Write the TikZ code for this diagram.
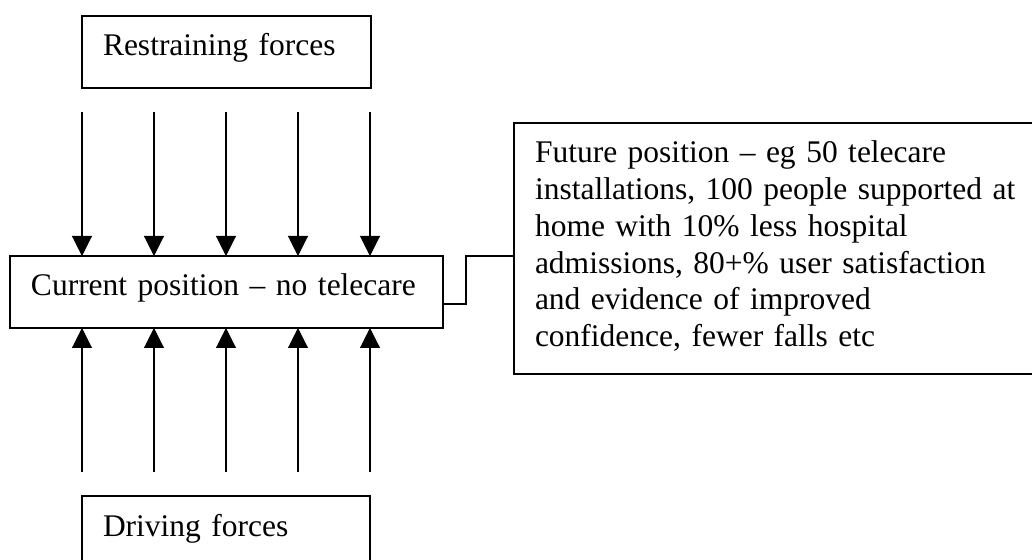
\documentclass[tikz,border=0pt]{standalone}
\usepackage{fontspec}
\setmainfont{Liberation Serif}
\usetikzlibrary{arrows.meta}

\begin{document}
\begin{tikzpicture}[x=0.5pt,y=-0.5pt,
   box/.style={draw,line width=0.65pt,anchor=north west,outer sep=0pt,
     inner xsep=10.5pt,inner ysep=5pt,text height=15pt,text depth=11pt,
     align=left,font=\fontsize{15.75}{18.35}\selectfont},
   force/.style={line width=0.55pt,-{Triangle[length=10pt,width=10pt]}}]
   \useasboundingbox (0,0) rectangle (1032,560);
   \clip (0,0) rectangle (1032,560);
   % the boxes
   \node [box,text width=123.5pt] (rest) at (82,16) {Restraining forces};
   \node [box,text width=195.5pt] (cur) at (10,256) {Current position -- no telecare};
   \node [box,text width=123pt] (drive) at (82,496) {Driving forces};
   \node [box,text width=250pt,text depth=100.5pt] (fut) at (514,123)
    {Future position -- eg 50 telecare\\
     installations, 100 people supported at\\
     home with 10\% less hospital\\
     admissions, 80+\% user satisfaction\\
     and evidence of improved\\
     confidence, fewer falls etc};
   % forces
   \foreach \x [count=\i] in {82,154,226,298,370} {
     \coordinate (top\i) at (\x,112);
     \coordinate (bot\i) at (\x,472);
     \draw [force] (top\i) -- (top\i |- cur.north);
     \draw [force] (bot\i) -- (bot\i |- cur.south);
   }
   \draw [line width=0.65pt] ([yshift=12pt]cur.south east) -- ++(23,0) |- (fut.west |- cur.north);
  \end{tikzpicture}
\end{document}
